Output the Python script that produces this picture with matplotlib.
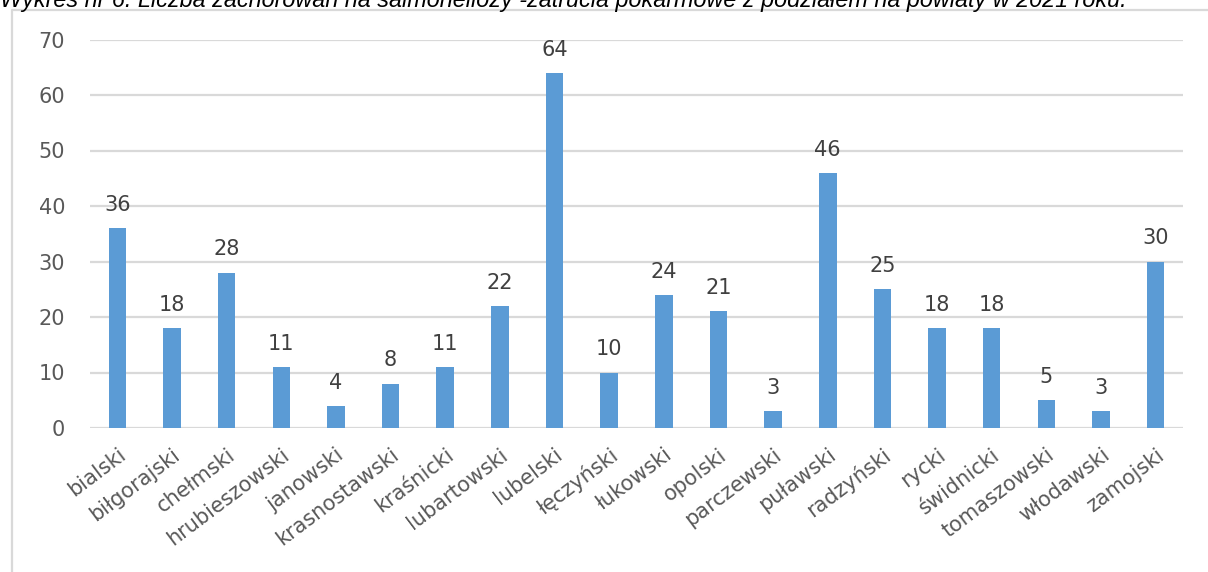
import matplotlib.pyplot as plt
from matplotlib.lines import Line2D
import numpy as np

BAR_COLOR = '#5B9BD5'
GRID_COLOR = '#D9D9D9'
TEXT_COLOR = '#595959'

powiaty = ['bialski', 'biłgorajski', 'chełmski', 'hrubieszowski', 'janowski',
           'krasnostawski', 'kraśnicki', 'lubartowski', 'lubelski', 'łęczyński',
           'łukowski', 'opolski', 'parczewski', 'puławski', 'radzyński',
           'rycki', 'świdnicki', 'tomaszowski', 'włodawski', 'zamojski']
zachorowania = [36, 18, 28, 11, 4, 8, 11, 22, 64, 10,
                24, 21, 3, 46, 25, 18, 18, 5, 3, 30]
yticks = [0, 10, 20, 30, 40, 50, 60, 70]

title = ('Wykres nr 6. Liczba zachorowań na salmonellozy -zatrucia pokarmowe '
         'z podziałem na powiaty w 2021 roku.')

plt.rcParams['font.family'] = ['DejaVu Sans']

W, H = 1208, 572
fig = plt.figure(figsize=(W / 100, H / 100), dpi=100)
ax = fig.add_axes([90 / W, 1 - 428 / H, (1183 - 90) / W, (428 - 39.5) / H])

x = np.arange(len(powiaty))
bars = ax.bar(x, zachorowania, width=0.32, color=BAR_COLOR, zorder=3)

for rect, v in zip(bars, zachorowania):
    ax.annotate(str(v), (rect.get_x() + rect.get_width() / 2, v),
                xytext=(0, 9.5), textcoords='offset points',
                ha='center', va='bottom', fontsize=15, color='#404040')

ax.set_xlim(-0.5, len(powiaty) - 0.5)
ax.set_ylim(0, 70)
ax.set_yticks(yticks)
ax.yaxis.grid(True, color=GRID_COLOR, linewidth=1.6, zorder=0)
ax.set_axisbelow(True)
for s in ['left', 'right', 'top', 'bottom']:
    ax.spines[s].set_visible(False)
ax.tick_params(axis='both', length=0, labelsize=15, labelcolor=TEXT_COLOR)
ax.tick_params(axis='y', pad=18)
ax.set_xticks(x)
ax.set_xticklabels(powiaty, rotation=37, ha='right', rotation_mode='anchor')
ax.tick_params(axis='x', pad=12)

# outer chart frame (left and top edges only)
fig.add_artist(Line2D([12 / W, 12 / W, 1.0], [0.0, 1 - 10 / H, 1 - 10 / H],
                      color=GRID_COLOR, linewidth=1.6))

fig.text(0.0, 1 - 6.5 / H, title, ha='left', va='baseline',
         fontsize=16.8, style='italic', family='Liberation Sans', color='black')

fig.savefig('out.png', dpi=100)
